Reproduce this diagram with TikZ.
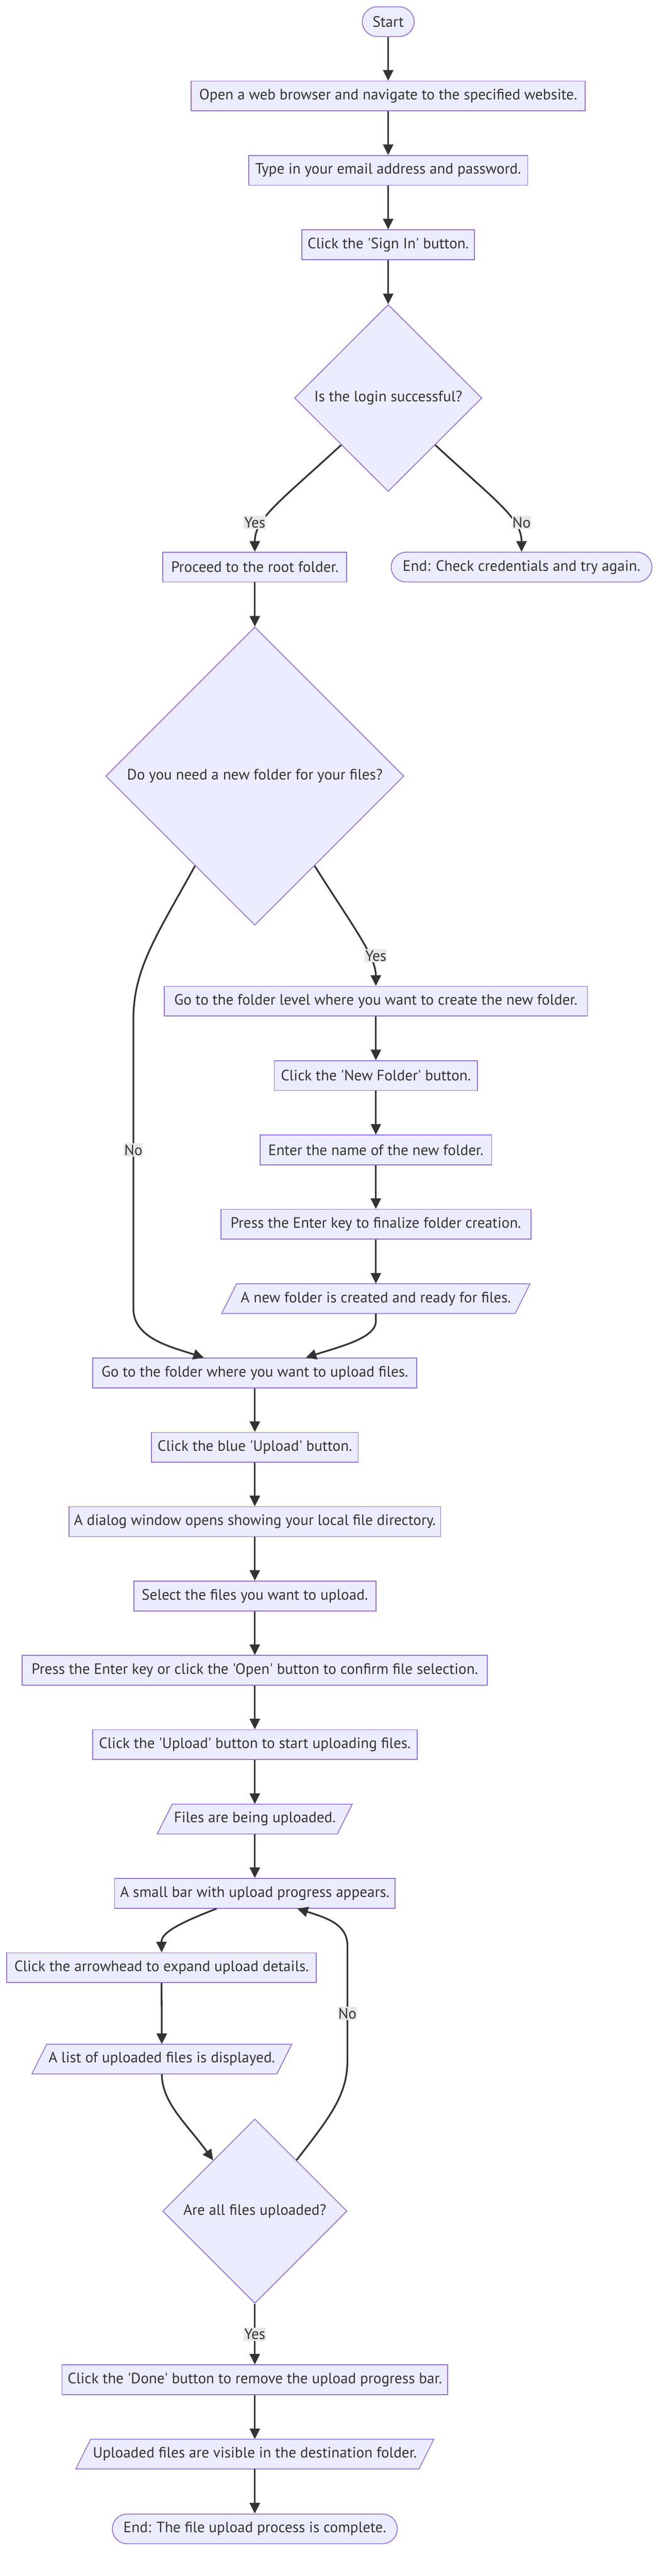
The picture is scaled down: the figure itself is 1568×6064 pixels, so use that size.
\documentclass[tikz,border=0pt]{standalone}
\usepackage{fontspec}
\newfontfamily\dv{PT Sans}
\usetikzlibrary{arrows.meta,shapes.geometric,calc}
\definecolor{nfill}{HTML}{ECECFF}
\definecolor{nline}{HTML}{9370DB}
\definecolor{eline}{HTML}{333333}
\definecolor{tcol}{HTML}{333333}
\definecolor{lbg}{HTML}{E8E8E8}
\tikzset{
  base/.style={font=\dv\fontsize{35.4}{40}\selectfont, text=tcol},
  proc/.style={base, draw=nline, fill=nfill, line width=2pt, rectangle, minimum height=70pt, inner xsep=0pt, inner ysep=0pt},
  term/.style={proc, rounded corners=35pt},
  dec/.style={base, draw=nline, fill=nfill, line width=2pt, diamond, inner sep=0pt},
  ptext/.style={base, rectangle, minimum height=70pt, inner sep=0pt},
  pshape/.style={draw=nline, fill=nfill, line width=2pt},
  edge/.style={draw=eline, line width=4pt, -{Triangle[length=25pt,width=24pt]}},
  elabel/.style={base, fill=lbg, inner xsep=1pt, inner ysep=3pt},
}
\newcommand{\paranode}[5]{%
  \pgfmathsetmacro\paraL{#2-#4/2}%
  \pgfmathsetmacro\paraR{#2+#4/2}%
  \filldraw[pshape] (\paraL+35,#3-35) -- (\paraR,#3-35) -- (\paraR-35,#3+35) -- (\paraL,#3+35) -- cycle;
  \node[ptext, minimum width=#4] (#1) at (#2,#3) {#5};
}
\begin{document}
\begin{tikzpicture}[x=1pt,y=-1pt]
\fill[white] (0,0) rectangle (1568,6064);
\useasboundingbox (0,0) rectangle (1568,6064);

% nodes
\node[term, minimum width=122] (start) at (914,51) {Start};
\node[proc, minimum width=928] (b1) at (914,226) {Open a web browser and navigate to the specified website.};
\node[proc, minimum width=657] (b2) at (914,401) {Type in your email address and password.};
\node[proc, minimum width=406] (b3) at (914,576) {Click the 'Sign In' button.};
\node[dec, minimum width=441, minimum height=440] (d1) at (914,937) {Is the login successful?};
\node[proc, minimum width=433] (b4) at (600,1335) {Proceed to the root folder.};
\node[term, minimum width=614] (e1) at (1228,1335) {End: Check credentials and try again.};
\node[dec, minimum width=702, minimum height=702] (d2) at (600,1827) {Do you need a new folder for your files?};
\node[proc, minimum width=996] (b5) at (885,2357) {Go to the folder level where you want to create the new folder.};
\node[proc, minimum width=478] (b6) at (885,2532) {Click the 'New Folder' button.};
\node[proc, minimum width=545] (b7) at (885,2707) {Enter the name of the new folder.};
\node[proc, minimum width=730] (b8) at (885,2882) {Press the Enter key to finalize folder creation.};
\paranode{p1}{885}{3057}{726}{A new folder is created and ready for files.}
\node[proc, minimum width=763] (b9) at (600,3232) {Go to the folder where you want to upload files.};
\node[proc, minimum width=487] (b10) at (600,3407) {Click the blue 'Upload' button.};
\node[proc, minimum width=875] (b11) at (600,3582) {A dialog window opens showing your local file directory.};
\node[proc, minimum width=570] (b12) at (600,3757) {Select the files you want to upload.};
\node[proc, minimum width=1095] (b13) at (600,3932) {Press the Enter key or click the 'Open' button to confirm file selection.};
\node[proc, minimum width=764] (b14) at (600,4107) {Click the 'Upload' button to start uploading files.};
\paranode{p2}{600}{4282}{459}{Files are being uploaded.}
\node[proc, minimum width=660] (b15) at (600,4457) {A small bar with upload progress appears.};
\node[proc, minimum width=729] (b16) at (380.5,4632) {Click the arrowhead to expand upload details.};
\paranode{p3}{381}{4847}{612}{A list of uploaded files is displayed.}
\node[dec, minimum width=434, minimum height=434] (d3) at (600,5205) {Are all files uploaded?};
\node[proc, minimum width=908] (b17) at (600,5602) {Click the 'Done' button to remove the upload progress bar.};
\paranode{p4}{600}{5777}{843}{Uploaded files are visible in the destination folder.}
\node[term, minimum width=671] (e2) at (600,5953) {End: The file upload process is complete.};

% helper coordinates
\coordinate (d2sw) at ($(d2.south)!0.4!(d2.west)$);
\coordinate (d2se) at ($(d2.south)!0.4!(d2.east)$);
\coordinate (b9nl) at ($(b9.north)+(-120,0)$);
\coordinate (b9nr) at ($(b9.north)+(120,0)$);
\coordinate (b15sl) at ($(b15.south)+(-90,0)$);
\coordinate (b15sr) at ($(b15.south)+(100,0)$);
\coordinate (d3nw) at ($(d3.north)!0.45!(d3.west)$);
\coordinate (d3ne) at ($(d3.north)!0.45!(d3.east)$);

% edges
\draw[edge] (start.south) -- (b1.north);
\draw[edge] (b1.south) -- (b2.north);
\draw[edge] (b2.south) -- (b3.north);
\draw[edge] (b3.south) -- (d1.north);
\draw[edge] (d1.south west) .. controls (660,1180) and (600,1220) .. (b4.north);
\draw[edge] (d1.south east) .. controls (1168,1180) and (1228,1220) .. (e1.north);
\draw[edge] (b4.south) -- (d2.north);
\draw[edge] (d2se) .. controls (830,2180) and (885,2250) .. (b5.north);
\draw[edge] (d2sw) .. controls (370,2200) and (314,2280) .. (314,2400) -- (314,3080) .. controls (314,3150) and (400,3170) .. (b9nl);
\draw[edge] (b5.south) -- (b6.north);
\draw[edge] (b6.south) -- (b7.north);
\draw[edge] (b7.south) -- (b8.north);
\draw[edge] (b8.south) -- (p1.north);
\draw[edge] (p1.south) -- (885,3110) .. controls (885,3150) and (800,3170) .. (b9nr);
\draw[edge] (b9.south) -- (b10.north);
\draw[edge] (b10.south) -- (b11.north);
\draw[edge] (b11.south) -- (b12.north);
\draw[edge] (b12.south) -- (b13.north);
\draw[edge] (b13.south) -- (b14.north);
\draw[edge] (b14.south) -- (p2.north);
\draw[edge] (p2.south) -- (b15.north);
\draw[edge] (b15sl) .. controls (400,4535) and (380,4555) .. (b16.north);
\draw[edge] (b16.south) -- (p3.north);
\draw[edge] (p3.south) .. controls (381,4950) and (440,5000) .. (d3nw);
\draw[edge] (d3ne) .. controls (780,4980) and (818,4930) .. (818,4850) -- (818,4580) .. controls (818,4530) and (770,4515) .. (b15sr);
\draw[edge] (d3.south) -- (b17.north);
\draw[edge] (b17.south) -- (p4.north);
\draw[edge] (p4.south) -- (e2.north);

% edge labels
\node[elabel] (lyes1) at (600,1230) {Yes};
\node[elabel] (lno1) at (1228,1230) {No};
\node[elabel] (lyes2) at (885,2250) {Yes};
\node[elabel] (lno2) at (314,2707) {No};
\node[elabel] (lno3) at (818,4740) {No};
\node[elabel] (lyes3) at (600,5495) {Yes};
\end{tikzpicture}
\end{document}
